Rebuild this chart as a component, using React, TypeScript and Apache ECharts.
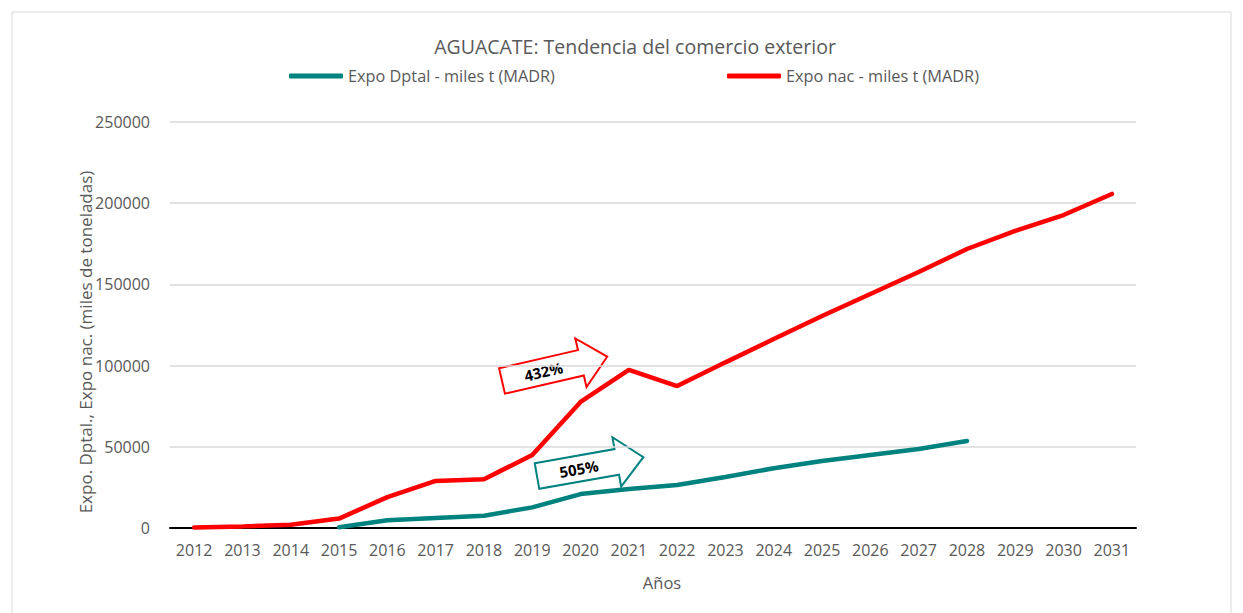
import React, { useEffect, useRef } from "react";
import * as echarts from "echarts";

const years = ["2012","2013","2014","2015","2016","2017","2018","2019","2020","2021","2022","2023","2024","2025","2026","2027","2028","2029","2030","2031"];
const expoDptal: (number | null)[] = [null,null,null,500,4800,6200,7600,12700,20900,24000,26500,31400,36800,41300,45000,48600,53600,null,null,null];
const expoNac: number[] = [300,1000,2000,5800,19000,29000,30000,45000,77600,97300,87400,102000,116400,130500,144100,157600,171800,182900,192700,205700];
const yTicks = { min: 0, max: 250000, interval: 50000 };
const TITLE = "AGUACATE: Tendencia del comercio exterior";
const S1 = "Expo Dptal - miles t (MADR)";
const S2 = "Expo nac - miles t (MADR)";
const X_NAME = "Años";
const Y_NAME = "Expo. Dptal., Expo nac. (miles de toneladas)";
const ANN1 = "432%";
const ANN2 = "505%";

const FONT = "'Open Sans', sans-serif";
const GRAY = "#595959";
const TEAL = "#00827F";
const RED = "#FF0000";

function arrow(x: number, y: number, deg: number, color: string, label: string) {
  const L = 108, Lh = 27, bh = 13, hh = 25;
  return {
    type: "group",
    x, y,
    rotation: (deg * Math.PI) / 180,
    children: [
      {
        type: "polygon",
        shape: { points: [[0,-bh],[L-Lh,-bh],[L-Lh,-hh],[L,0],[L-Lh,hh],[L-Lh,bh],[0,bh]] },
        style: { fill: "#fff", stroke: color, lineWidth: 2 },
      },
      {
        type: "text",
        x: (L - Lh) / 2 + 2,
        y: 0,
        style: { text: label, font: `bold 15px ${FONT}`, fill: "#000", align: "center", verticalAlign: "middle" },
      },
    ],
  };
}

export default function App() {
  const ref = useRef<HTMLDivElement>(null);
  useEffect(() => {
    const chart = echarts.init(ref.current!, null, { renderer: "svg" });
    chart.setOption({
      animation: false,
      backgroundColor: "#fff",
      legend: [
        {
          data: [S1], left: 289, top: 68, padding: 0, icon: "roundRect", itemWidth: 54, itemHeight: 5, itemGap: 6,
          textStyle: { fontFamily: FONT, fontSize: 16.3, color: GRAY },
        },
        {
          data: [S2], left: 727, top: 68, padding: 0, icon: "roundRect", itemWidth: 54, itemHeight: 5, itemGap: 6,
          textStyle: { fontFamily: FONT, fontSize: 16.3, color: GRAY },
        },
      ],
      grid: { left: 170, right: 107, top: 122, bottom: 85, containLabel: false },
      xAxis: {
        type: "category",
        data: years,
        boundaryGap: true,
        axisLine: { lineStyle: { color: "#000", width: 2 } },
        axisTick: { show: false },
        axisLabel: { fontFamily: FONT, fontSize: 16, color: GRAY, margin: 14, interval: 0 },
      },
      yAxis: {
        type: "value",
        min: yTicks.min, max: yTicks.max, interval: yTicks.interval,
        axisLine: { show: false },
        axisTick: { show: false },
        splitLine: { lineStyle: { color: "#D9D9D9", width: 1.5 } },
        axisLabel: { fontFamily: FONT, fontSize: 16, color: GRAY, margin: 20, formatter: (v: number) => String(v) },
      },
      series: [
        {
          name: S1, type: "line", data: expoDptal, symbol: "none", connectNulls: false,
          lineStyle: { color: TEAL, width: 4.5, cap: "round" }, itemStyle: { color: TEAL },
        },
        {
          name: S2, type: "line", data: expoNac, symbol: "none",
          lineStyle: { color: RED, width: 4.5, cap: "round" }, itemStyle: { color: RED },
        },
      ],
      graphic: [
        { type: "rect", shape: { x: 12, y: 12, width: 1219, height: 640 }, style: { fill: "none", stroke: "#D9D9D9", lineWidth: 1 }, z: -1 },
        {
          type: "text", x: 635, y: 46,
          style: { text: TITLE, font: `19.5px ${FONT}`, fill: GRAY, align: "center", verticalAlign: "middle" },
        },
        {
          type: "text", x: 662, y: 582,
          style: { text: X_NAME, font: `16.5px ${FONT}`, fill: GRAY, align: "center", verticalAlign: "middle" },
        },
        {
          type: "text", x: 85, y: 342, rotation: Math.PI / 2,
          style: { text: Y_NAME, font: `17px ${FONT}`, fill: GRAY, align: "center", verticalAlign: "middle" },
        },
        arrow(502, 381, 13, RED, ANN1),
        arrow(537, 476, 10, TEAL, ANN2),
      ],
    });
    return () => chart.dispose();
  }, []);
  return <div ref={ref} style={{ position: "fixed", left: 0, top: 0, width: 1243, height: 613 }} />;
}
